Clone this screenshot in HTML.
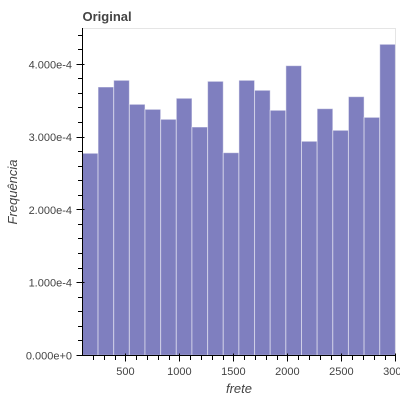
<!DOCTYPE html>
<html lang="pt">
<head>
<meta charset="utf-8">
<title>Original</title>
<style>
html,body{margin:0;padding:0;background:#fff;width:400px;height:400px;overflow:hidden}
svg{display:block}
text{font-family:"Liberation Sans",Arial,sans-serif;fill:#444}
</style>
</head>
<body>
<svg id="chart" xmlns="http://www.w3.org/2000/svg" width="400" height="400" viewBox="0 0 400 400">
<rect x="0" y="0" width="400" height="400" fill="#fff"/>
<text x="82.5" y="21" font-size="13" font-weight="bold">Original</text>
<rect x="82.5" y="28.5" width="313" height="327" fill="none" stroke="#e5e5e5" stroke-width="1"/>
<g id="bars"></g>
<g id="x-axis"></g>
<g id="y-axis"></g>
<text x="239" y="393" font-size="13" font-style="italic" text-anchor="middle">frete</text>
<text x="17" y="192" font-size="13" font-style="italic" text-anchor="middle" transform="rotate(-90 17 192)">Frequência</text>
</svg>
<script>
var binStart = 102;
var binWidth = 144.9;
var frequencies = [2.777e-4, 3.688e-4, 3.78e-4, 3.45e-4, 3.381e-4, 3.244e-4, 3.533e-4, 3.138e-4, 3.766e-4, 2.785e-4, 3.78e-4, 3.643e-4, 3.368e-4, 3.981e-4, 2.942e-4, 3.39e-4, 3.093e-4, 3.555e-4, 3.271e-4, 4.275e-4];
var xTicks = [500, 1000, 1500, 2000, 2500, 3000];
var xMinorTicks = [200, 300, 400, 600, 700, 800, 900, 1100, 1200, 1300, 1400, 1600, 1700, 1800, 1900, 2100, 2200, 2300, 2400, 2600, 2700, 2800, 2900];
var yTicks = [0, 1e-4, 2e-4, 3e-4, 4e-4];
var yTickLabels = ['0.000e+0', '1.000e-4', '2.000e-4', '3.000e-4', '4.000e-4'];
var yMinorTicks = [0.2e-4, 0.4e-4, 0.6e-4, 0.8e-4, 1.2e-4, 1.4e-4, 1.6e-4, 1.8e-4, 2.2e-4, 2.4e-4, 2.6e-4, 2.8e-4, 3.2e-4, 3.4e-4, 3.6e-4, 3.8e-4, 4.2e-4, 4.4e-4];

function xScale(v) { return 125.4 + (v - 500) * 0.108; }
function yScale(v) { return 355.3 - v * 727500; }

var NS = 'http://www.w3.org/2000/svg';
function make(tag, parent, attrs) {
  var el = document.createElementNS(NS, tag);
  for (var k in attrs) el.setAttribute(k, attrs[k]);
  parent.appendChild(el);
  return el;
}

var barsG = document.getElementById('bars');
frequencies.forEach(function (f, i) {
  var x0 = xScale(binStart + i * binWidth);
  var x1 = xScale(binStart + (i + 1) * binWidth);
  var y0 = yScale(f);
  var bar = make('rect', barsG, {
    x: x0, y: y0, width: x1 - x0, height: yScale(0) - y0,
    fill: '#000080', 'fill-opacity': 0.5, stroke: '#fff', 'stroke-opacity': 0.5, 'stroke-width': 1
  });
  
  
});

var xG = document.getElementById('x-axis');
var xLine = make('line', xG, { x1: 82.5, x2: 395.5, y1: 355.5, y2: 355.5, stroke: '#000', 'stroke-width': 1 });


xMinorTicks.forEach(function (v) {
  var px = Math.round(xScale(v)) + 0.5;
  var t = make('line', xG, { x1: px, x2: px, y1: 355.5, y2: 360, stroke: '#000', 'stroke-width': 1 });
  
  
});
xTicks.forEach(function (v) {
  var px = Math.round(xScale(v)) + 0.5;
  var t = make('line', xG, { x1: px, x2: px, y1: 353.5, y2: 361.5, stroke: '#000', 'stroke-width': 1 });
  
  
  var lab = make('text', xG, { x: xScale(v), y: 375, 'font-size': 11, 'text-anchor': 'middle' });
  lab.textContent = String(v);
  
  
});

var yG = document.getElementById('y-axis');
var yLine = make('line', yG, { x1: 82.5, x2: 82.5, y1: 28, y2: 356, stroke: '#000', 'stroke-width': 1 });


yMinorTicks.forEach(function (v) {
  var py = Math.round(yScale(v) - 0.5) + 0.5;
  var t = make('line', yG, { x1: 78, x2: 82.5, y1: py, y2: py, stroke: '#000', 'stroke-width': 1 });
  
  
});
yTicks.forEach(function (v, i) {
  var py = Math.round(yScale(v) - 0.5) + 0.5;
  var t = make('line', yG, { x1: 76.5, x2: 84.5, y1: py, y2: py, stroke: '#000', 'stroke-width': 1 });
  
  
  var lab = make('text', yG, { x: 72, y: yScale(v) + 4, 'font-size': 11, 'text-anchor': 'end' });
  lab.textContent = yTickLabels[i];
  
  
});
</script>
</body>
</html>
